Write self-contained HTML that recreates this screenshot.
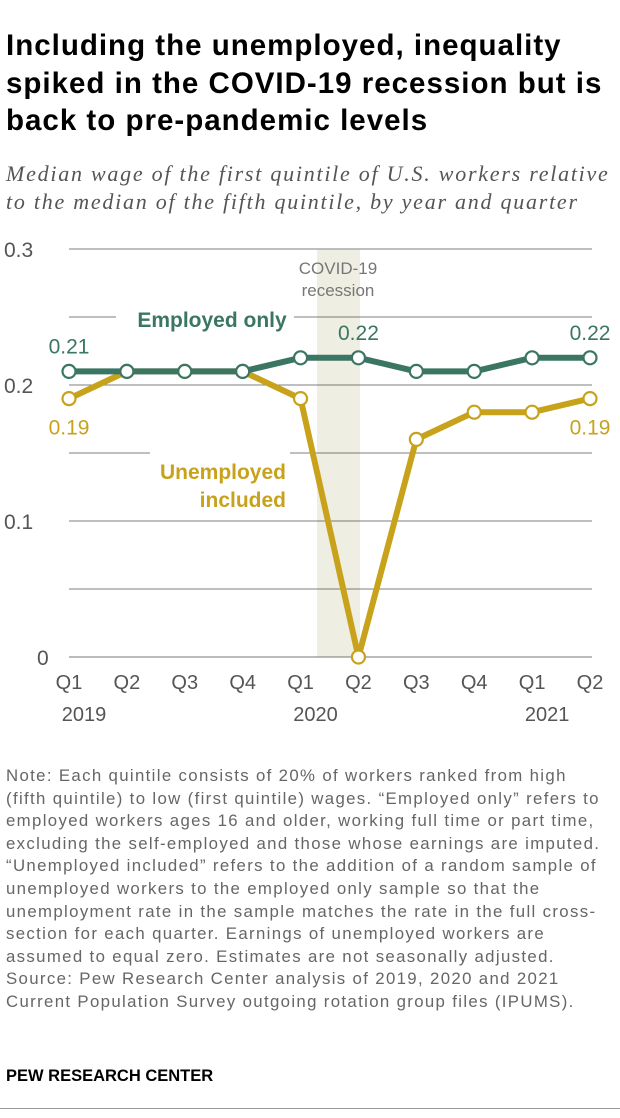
<!DOCTYPE html>
<html><head><meta charset="utf-8"><style>
body{margin:0;background:#fff;width:620px;height:1118px;overflow:hidden;font-family:"Liberation Sans",sans-serif;position:relative}
.t{position:absolute;left:6px;top:27px;width:620px;font-weight:bold;font-size:29.5px;line-height:37.5px;color:#000;letter-spacing:1px;white-space:nowrap}
.s{position:absolute;left:6px;top:160px;width:620px;font-family:"Liberation Serif",serif;font-style:italic;font-size:22px;line-height:28px;color:#555;letter-spacing:1.75px;white-space:nowrap}
.n{position:absolute;left:6px;top:765px;width:620px;font-size:16.8px;line-height:22.6px;color:#666;letter-spacing:1.35px;white-space:nowrap}
.p{position:absolute;left:6px;top:1067px;font-weight:bold;font-size:16.5px;color:#000}
.b{position:absolute;left:0;top:1108px;width:620px;height:1px;background:#999}
</style></head><body>
<div class="t">Including the unemployed, inequality<br>spiked in the COVID-19 recession but is<br>back to pre-pandemic levels</div>
<div class="s">Median wage of the first quintile of U.S. workers relative<br>to the median of the fifth quintile, by year and quarter</div>
<svg id="c" width="620" height="740" style="position:absolute;left:0;top:0" font-family="Liberation Sans, sans-serif"></svg>
<div class="n">Note: Each quintile consists of 20% of workers ranked from high<br>(fifth quintile) to low (first quintile) wages. “Employed only” refers to<br>employed workers ages 16 and older, working full time or part time,<br>excluding the self-employed and those whose earnings are imputed.<br>“Unemployed included” refers to the addition of a random sample of<br>unemployed workers to the employed only sample so that the<br>unemployment rate in the sample matches the rate in the full cross-<br>section for each quarter. Earnings of unemployed workers are<br>assumed to equal zero. Estimates are not seasonally adjusted.<br>Source: Pew Research Center analysis of 2019, 2020 and 2021<br>Current Population Survey outgoing rotation group files (IPUMS).</div>
<div class="p">PEW RESEARCH CENTER</div>
<div class="b"></div>
<script>
const quarters=["Q1","Q2","Q3","Q4","Q1","Q2","Q3","Q4","Q1","Q2"];
const years=[["2019",0],["2020",4],["2021",8]];
const employed=[0.21,0.21,0.21,0.21,0.22,0.22,0.21,0.21,0.22,0.22];
const unemployed=[0.19,0.21,0.21,0.21,0.19,0,0.16,0.18,0.18,0.19];
const gridVals=[0.05,0.1,0.15,0.2,0.25,0.3];
const yTicks=[0,0.1,0.2,0.3];
const ns="http://www.w3.org/2000/svg",svg=document.getElementById('c');
const x=i=>69+i*(590-69)/9, y=v=>657-v*(657-249)/0.3;
function el(t,a,txt){const e=document.createElementNS(ns,t);for(const k in a)e.setAttribute(k,a[k]);if(txt!=null)e.textContent=txt;svg.appendChild(e);return e;}
let r=el('rect',{x:317,y:249,width:43,height:408,fill:'#eeeee2'});


gridVals.forEach(v=>{const g=el('line',{x1:69,x2:592,y1:y(v),y2:y(v),stroke:v==0.3?'#aaa':'#555','stroke-width':v==0.3?1.5:0.8});

});
let b=el('line',{x1:69,x2:592,y1:y(0),y2:y(0),stroke:'#777','stroke-width':1});


yTicks.forEach(v=>{const t=el('text',{x:v==0?37:4,y:y(v)+8,'font-size':21,fill:'#555'},v==0?'0':String(v));

});
quarters.forEach((q,i)=>{const t=el('text',{x:x(i),y:689,'font-size':20,fill:'#555','text-anchor':'middle'},q);

});
years.forEach(([yr,i])=>{const t=el('text',{x:x(i)+15,y:721,'font-size':20,fill:'#555','text-anchor':'middle'},yr);

});
let c1=el('text',{x:338,y:274,'font-size':17,fill:'#777','text-anchor':'middle'},'COVID-19');


let c2=el('text',{x:338,y:296,'font-size':17,fill:'#777','text-anchor':'middle'},'recession');


let bg1=el('rect',{x:116,y:304,width:178,height:26,fill:'#fff'});


let l1=el('text',{x:212,y:327,'font-size':21,'font-weight':'bold',fill:'#3a7663','text-anchor':'middle'},'Employed only');


let bg2=el('rect',{x:150,y:442,width:140,height:22,fill:'#fff'});


let l2=el('text',{x:286,y:479,'font-size':21,'font-weight':'bold',fill:'#c9a21c','text-anchor':'end'},'Unemployed');


let l3=el('text',{x:286,y:507,'font-size':21,'font-weight':'bold',fill:'#c9a21c','text-anchor':'end'},'included');


function series(vals,color,name){
 const p=el('polyline',{points:vals.map((v,i)=>x(i)+','+y(v)).join(' '),fill:'none',stroke:color,'stroke-width':6,'stroke-linejoin':'round'});
 
 
 vals.forEach((v,i)=>{const m=el('circle',{cx:x(i),cy:y(v),r:6.5,fill:'#fff',stroke:color,'stroke-width':2.2});
 
 });
}
series(unemployed,'#c9a21c','unemployed-included');
series(employed,'#3a7663','employed-only');
[[0,employed,'#3a7663',-18],[5,employed,'#3a7663',-18],[9,employed,'#3a7663',-18],[0,unemployed,'#c9a21c',36],[9,unemployed,'#c9a21c',36]].forEach(([i,arr,col,dy])=>{
 const t=el('text',{x:x(i),y:y(arr[i])+dy,'font-size':21,fill:col,'text-anchor':'middle'},arr[i].toFixed(2));
 
 });
</script>
</body></html>
